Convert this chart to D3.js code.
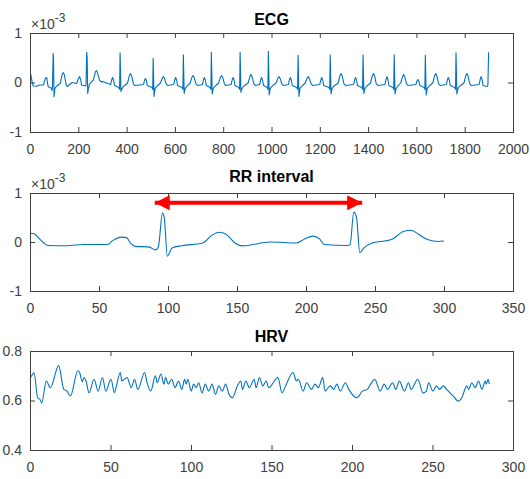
<!DOCTYPE html>
<html>
<head>
<meta charset="utf-8">
<script src="https://cdn.jsdelivr.net/npm/d3@7"></script>
<style>
  html, body { margin: 0; padding: 0; background: #fff; }
  svg { display: block; font-family: "Liberation Sans", Arial, Helvetica, sans-serif; }
</style>
</head>
<body>
<svg id="chart" width="530" height="479"></svg>
<script>
// ---------------- DATA ----------------
// RR interval panel: first 300 samples of the ECG (values in units of 1e-3)
const rrPoints = [
  [0,0.18],[3,0.17],[6,0.09],[10,-0.02],[13,-0.07],[27,-0.075],[39,-0.05],[56,-0.05],
  [60,0.03],[66,0.1],[70,0.09],[73,-0.03],[76,-0.09],[86,-0.1],[91,-0.16],[93,-0.1],
  [96,0.59],[97.3,0.5],[99.5,-0.29],[103,-0.12],[110,-0.075],[125,-0.02],[132,0.14],
  [137,0.2],[142,0.16],[149,-0.03],[154,-0.08],[174,0],[193,-0.02],[199,0.06],[205,0.12],
  [210,0.06],[213,-0.05],[230,-0.07],[232,-0.05],[234.6,0.61],[236.6,0.5],[239,-0.22],
  [242,-0.12],[247,-0.03],[262,0.05],[271,0.22],[276,0.24],[281,0.17],[288,0.05],
  [296,0.01],[300,0.02]
];
// ECG panel: remaining beats after sample 300
const ecgTailPoints = [
  [334,-0.04],[338,0.05],[342,0.1],[346,0.05],[350,-0.06],[368,-0.1],[371,-0.14],[373,0.6],[376.5,-0.18],[381,-0.12],[389,-0.07],[404,-0.01],[411,0.13],[416,0.18],[421,0.13],[428,-0.03],[434,-0.06],
  [470,-0.04],[474,0.04],[478,0.08],[482,0.04],[486,-0.06],[505,-0.1],[508,-0.14],[510,0.49],[513.5,-0.28],[518,-0.12],[526,-0.07],[540,-0.01],[547,0.08],[552,0.12],[557,0.08],[564,-0.03],[570,-0.06],
  [595,-0.04],[599,0.05],[603,0.1],[607,0.05],[611,-0.06],[630,-0.1],[633,-0.14],[635,0.56],[638.5,-0.22],[643,-0.12],[651,-0.07],[663,-0.01],[670,0.1],[675,0.14],[680,0.1],[687,-0.03],[693,-0.06],
  [714,-0.04],[718,0.05],[722,0.1],[726,0.05],[730,-0.06],[746,-0.1],[749,-0.14],[751,0.61],[754.5,-0.23],[759,-0.12],[767,-0.07],[781,-0.01],[788,0.1],[793,0.14],[798,0.1],[805,-0.03],[811,-0.06],
  [833,-0.04],[837,0.05],[841,0.1],[845,0.05],[849,-0.06],[865,-0.1],[868,-0.14],[870,0.61],[873.5,-0.2],[878,-0.12],[886,-0.07],[903,-0.01],[910,0.11],[915,0.16],[920,0.11],[927,-0.03],[933,-0.06],
  [951,-0.04],[955,0.05],[959,0.1],[963,0.05],[967,-0.06],[982,-0.1],[985,-0.14],[987,0.63],[990.5,-0.25],[995,-0.12],[1003,-0.07],[1019,-0.01],[1026,0.08],[1031,0.12],[1036,0.08],[1043,-0.03],[1049,-0.06],
  [1070,-0.04],[1074,0.05],[1078,0.1],[1082,0.05],[1086,-0.06],[1105,-0.1],[1108,-0.14],[1110,0.55],[1113.5,-0.28],[1118,-0.12],[1126,-0.07],[1140,-0.01],[1147,0.08],[1152,0.12],[1157,0.08],[1164,-0.03],[1170,-0.06],
  [1200,-0.04],[1204,0.05],[1208,0.1],[1212,0.05],[1216,-0.06],[1238,-0.1],[1241,-0.14],[1243,0.56],[1246.5,-0.23],[1251,-0.12],[1259,-0.07],[1276,-0.01],[1283,0.13],[1288,0.18],[1293,0.13],[1300,-0.03],[1306,-0.06],
  [1340,-0.04],[1344,0.05],[1348,0.1],[1352,0.05],[1356,-0.06],[1374,-0.1],[1377,-0.14],[1379,0.56],[1382.5,-0.22],[1387,-0.12],[1395,-0.07],[1410,-0.01],[1417,0.13],[1422,0.18],[1427,0.13],[1434,-0.03],[1440,-0.06],
  [1470,-0.04],[1474,0.06],[1478,0.12],[1482,0.06],[1486,-0.06],[1503,-0.1],[1506,-0.14],[1508,0.56],[1511.5,-0.23],[1516,-0.12],[1524,-0.07],[1535,-0.01],[1542,0.11],[1547,0.16],[1552,0.11],[1559,-0.03],[1565,-0.06],
  [1598,-0.04],[1602,0.03],[1606,0.06],[1610,0.03],[1614,-0.06],[1632,-0.1],[1635,-0.14],[1637,0.55],[1640.5,-0.25],[1645,-0.12],[1653,-0.07],[1668,-0.01],[1675,0.13],[1680,0.18],[1685,0.13],[1692,-0.03],[1698,-0.06],
  [1724,-0.04],[1728,0.05],[1732,0.1],[1736,0.05],[1740,-0.06],[1759,-0.1],[1762,-0.14],[1764,0.6],[1767.5,-0.23],[1772,-0.12],[1780,-0.07],[1797,-0.01],[1804,0.13],[1809,0.18],[1814,0.13],[1821,-0.03],[1827,-0.06],
  [1860,-0.04],[1864,0.06],[1868,0.12],[1872,0.06],[1876,-0.06],[1893,-0.08],[1896,-0.06],[1899,0.61]
];
const ecgPoints = rrPoints.concat(ecgTailPoints);

// HRV series
const hrvPoints = [
  [0,0.69],[1,0.7],[2.5,0.712],[4.8,0.61],[6.3,0.604],[7.3,0.59],[10.1,0.679],[12.6,0.652],
  [17.8,0.741],[21,0.645],[23,0.638],[25.1,0.618],[29.7,0.72],[30.8,0.713],[32.5,0.676],
  [33.5,0.693],[34.8,0.679],[36.7,0.631],[39.8,0.686],[42.3,0.638],[45,0.693],[47.1,0.638],
  [50.3,0.686],[52.4,0.631],[53.4,0.652],[56.1,0.713],[57,0.679],[60.3,0.693],[62.9,0.652],
  [64.9,0.686],[67,0.645],[71.2,0.713],[72.7,0.672],[75,0.638],[77.9,0.7],[79,0.672],
  [81.3,0.707],[83.2,0.666],[84.2,0.693],[85.9,0.666],[88,0.686],[90.1,0.652],[92.2,0.679],
  [94.3,0.645],[96,0.686],[97,0.666],[98,0.686],[100.1,0.638],[101.6,0.666],[103.3,0.652],
  [104.8,0.672],[106.8,0.631],[108.9,0.666],[111,0.638],[113.1,0.666],[115.2,0.625],
  [117.3,0.659],[119.4,0.638],[121.5,0.666],[123.6,0.625],[125.7,0.611],[128.8,0.659],
  [130.9,0.679],[132,0.645],[134.1,0.679],[136.2,0.652],[139.3,0.686],[140.4,0.652],
  [142.5,0.693],[144.6,0.659],[146.7,0.679],[148.3,0.652],[154,0.693],[156.5,0.631],
  [159.2,0.666],[163.4,0.713],[165.5,0.679],[166.6,0.686],[169.7,0.638],[171.8,0.672],
  [174.9,0.645],[177,0.666],[179.1,0.652],[181.8,0.693],[183.3,0.638],[186.5,0.659],
  [188.6,0.645],[190.6,0.666],[192.7,0.638],[195.9,0.672],[198,0.645],[203.2,0.611],
  [206.4,0.638],[209.5,0.645],[211.6,0.666],[214.1,0.686],[217.5,0.638],[220,0.666],
  [222.1,0.645],[225.2,0.672],[227.3,0.645],[229.4,0.679],[232.5,0.638],[235.1,0.672],
  [236.7,0.645],[240.9,0.686],[244.1,0.631],[246.2,0.638],[247.6,0.672],[250.3,0.638],
  [252.4,0.659],[254.5,0.645],[256.6,0.659],[258.7,0.645],[262.9,0.618],[266,0.597],
  [268.2,0.611],[271.3,0.659],[272.4,0.645],[274.4,0.672],[276.5,0.652],[278.6,0.679],
  [280.7,0.645],[282.8,0.679],[283.4,0.666],[284.5,0.686],[285.3,0.666]
];

// RR interval annotation arrow (data coords of RR panel)
const rrArrowX = [90.4, 240.7];
const rrArrowY = 0.8;

// Tick values
const ecgXTicks = [0,200,400,600,800,1000,1200,1400,1600,1800,2000];
const rrXTicks = [0,50,100,150,200,250,300,350];
const hrvXTicks = [0,50,100,150,200,250,300];
const milliYTicks = [-1,0,1];
const hrvYTicks = [0.4,0.6,0.8];

// ---------------- LAYOUT ----------------
const svg = d3.select("#chart");
const left = 30, right = 513;
const axisColor = "#404040";
const lineColor = "#0072BD";
const fontSize = 14;
const plainFmt = d => String(d);           // ASCII hyphen like MATLAB
const oneDecFmt = d => d.toFixed(1);

const panels = [
  { title: "ECG", top: 33, bottom: 132, titleY: 25, xDomain: [0,2000], yDomain: [-1,1],
    xTicks: ecgXTicks, yTicks: milliYTicks, yFmt: plainFmt, data: ecgPoints,
    exponent: true, curve: d3.curveLinear },
  { title: "RR interval", top: 193, bottom: 291, titleY: 182, xDomain: [0,350], yDomain: [-1,1],
    xTicks: rrXTicks, yTicks: milliYTicks, yFmt: plainFmt, data: rrPoints,
    exponent: true, curve: d3.curveMonotoneX, arrow: true },
  { title: "HRV", top: 351, bottom: 450, titleY: 342, xDomain: [0,300], yDomain: [0.4,0.8],
    xTicks: hrvXTicks, yTicks: hrvYTicks, yFmt: oneDecFmt, data: hrvPoints,
    exponent: false, curve: d3.curveMonotoneX }
];

svg.append("defs").html(
  '<marker id="headL" viewBox="0 0 10 10" refX="0" refY="5" markerUnits="userSpaceOnUse" markerWidth="16" markerHeight="15" orient="auto"><path d="M10,0 L0,5 L10,10 z" fill="#ff0000"/></marker>' +
  '<marker id="headR" viewBox="0 0 10 10" refX="10" refY="5" markerUnits="userSpaceOnUse" markerWidth="16" markerHeight="15" orient="auto"><path d="M0,0 L10,5 L0,10 z" fill="#ff0000"/></marker>'
);

panels.forEach(p => {
  const x = d3.scaleLinear().domain(p.xDomain).range([left, right]);
  const y = d3.scaleLinear().domain(p.yDomain).range([p.bottom, p.top]);
  const g = svg.append("g");

  // data line
  const line = d3.line().x(d => x(d[0])).y(d => y(d[1])).curve(p.curve);
  g.append("path").datum(p.data)
    .attr("d", line)
    .attr("fill", "none")
    .attr("stroke", lineColor)
    .attr("stroke-width", 1.1)
    .attr("stroke-linejoin", "round");

  // axes (ticks inside, MATLAB style)
  const styleAxis = sel => {
    sel.select(".domain").remove();
    sel.selectAll(".tick line").attr("stroke", axisColor);
    sel.selectAll(".tick text").attr("fill", axisColor).attr("font-size", fontSize)
      .attr("font-family", '"Liberation Sans", Arial, Helvetica, sans-serif');
  };
  g.append("g").attr("transform", `translate(0,${p.bottom})`)
    .call(d3.axisBottom(x).tickValues(p.xTicks).tickFormat(plainFmt)
      .tickSizeInner(-5).tickSizeOuter(0).tickPadding(12))
    .call(styleAxis);
  g.append("g").attr("transform", `translate(0,${p.top})`)
    .call(d3.axisTop(x).tickValues(p.xTicks).tickFormat("")
      .tickSizeInner(-5).tickSizeOuter(0))
    .call(styleAxis);
  g.append("g").attr("transform", `translate(${left},0)`)
    .call(d3.axisLeft(y).tickValues(p.yTicks).tickFormat(p.yFmt)
      .tickSizeInner(-5).tickSizeOuter(0).tickPadding(8))
    .call(styleAxis);
  g.append("g").attr("transform", `translate(${right},0)`)
    .call(d3.axisRight(y).tickValues(p.yTicks).tickFormat("")
      .tickSizeInner(-5).tickSizeOuter(0))
    .call(styleAxis);

  // frame
  g.append("rect")
    .attr("x", left + 0.5).attr("y", p.top + 0.5)
    .attr("width", right - left).attr("height", p.bottom - p.top)
    .attr("fill", "none").attr("stroke", axisColor).attr("stroke-width", 1);

  // title
  g.append("text")
    .attr("x", (left + right) / 2).attr("y", p.titleY)
    .attr("text-anchor", "middle")
    .attr("font-weight", "bold").attr("font-size", 16).attr("fill", "#000")
    .text(p.title);

  // exponent label
  if (p.exponent) {
    const t = g.append("text")
      .attr("x", left + 1).attr("y", p.top - 4)
      .attr("font-size", 14).attr("fill", axisColor);
    t.append("tspan").text("\u00d710");
    t.append("tspan").attr("dy", -7).attr("font-size", 12).text("-3");
  }

  // RR arrow
  if (p.arrow) {
    g.append("line")
      .attr("x1", x(rrArrowX[0])).attr("x2", x(rrArrowX[1]))
      .attr("y1", y(rrArrowY)).attr("y2", y(rrArrowY))
      .attr("stroke", "#ff0000").attr("stroke-width", 4)
      .attr("marker-start", "url(#headL)").attr("marker-end", "url(#headR)");
  }
});
</script>
</body>
</html>
